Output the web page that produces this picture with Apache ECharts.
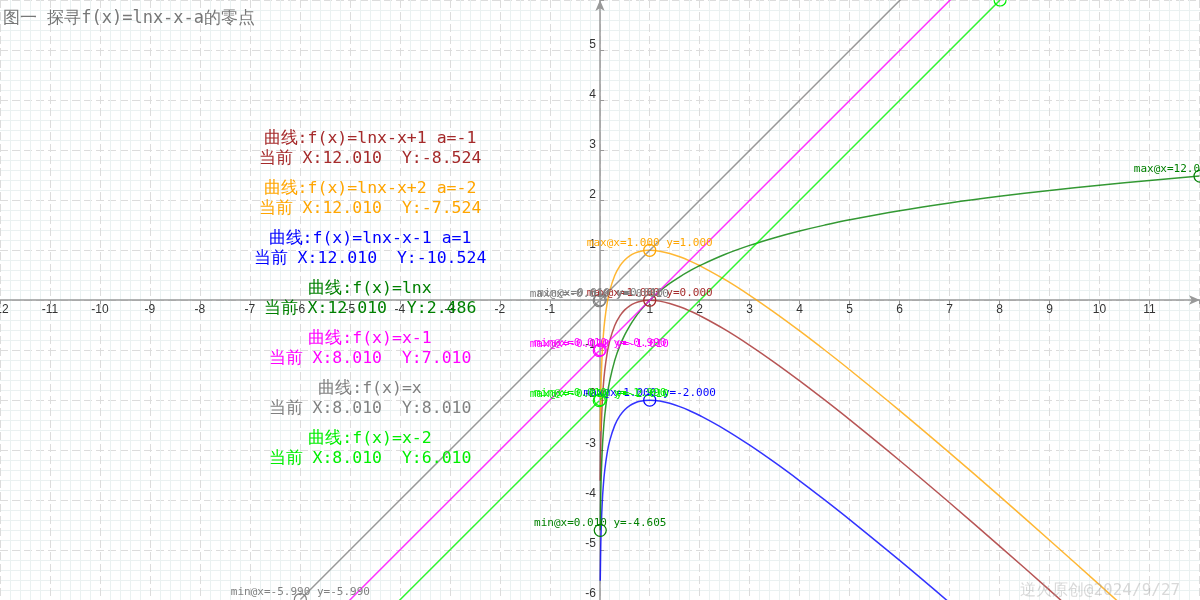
<!DOCTYPE html>
<html><head><meta charset="utf-8">
<script src="https://cdn.jsdelivr.net/npm/echarts@6/dist/echarts.min.js"></script>
<style>html,body{margin:0;padding:0;background:#fff}#c{width:1200px;height:600px}</style>
</head><body><div id="c"></div>
<script>
// ---- data ----
const titleText = '图一 探寻f(x)=lnx-x-a的零点';
const watermarkText = '逆火原创@2024/9/27';
const xRange = [-12, 12.01];
const yRange = [-6, 6.01];
const hiddenXLabels = [0, 12];
const hiddenYLabels = [0, 6];

const logX = [0.01,0.02,0.03,0.05,0.07,0.1,0.15,0.2,0.3,0.4,0.5,0.6,0.7,0.8,0.9,1,1.2,1.4,1.6,1.8,2,2.5,3,3.5,4,4.5,5,6,7,8,9,10,11,12,12.01];
const brownY = [-3.6152,-2.9320,-2.5366,-2.0457,-1.7293,-1.4026,-1.0471,-0.8094,-0.5040,-0.3163,-0.1931,-0.1108,-0.0567,-0.0231,-0.0054,0,-0.0177,-0.0635,-0.1300,-0.2122,-0.3069,-0.5837,-0.9014,-1.2472,-1.6137,-1.9959,-2.3906,-3.2082,-4.0541,-4.9206,-5.8028,-6.6974,-7.6021,-8.5151,-8.5243];
const orangeY = [-2.6152,-1.9320,-1.5366,-1.0457,-0.7293,-0.4026,-0.0471,0.1906,0.4960,0.6837,0.8069,0.8892,0.9433,0.9769,0.9946,1,0.9823,0.9365,0.8700,0.7878,0.6931,0.4163,0.0986,-0.2472,-0.6137,-0.9959,-1.3906,-2.2082,-3.0541,-3.9206,-4.8028,-5.6974,-6.6021,-7.5151,-7.5243];
const blueY = [-5.6152,-4.9320,-4.5366,-4.0457,-3.7293,-3.4026,-3.0471,-2.8094,-2.5040,-2.3163,-2.1931,-2.1108,-2.0567,-2.0231,-2.0054,-2,-2.0177,-2.0635,-2.1300,-2.2122,-2.3069,-2.5837,-2.9014,-3.2472,-3.6137,-3.9959,-4.3906,-5.2082,-6.0541,-6.9206,-7.8028,-8.6974,-9.6021,-10.5151,-10.5243];
const lnY = [-4.6052,-3.9120,-3.5066,-2.9957,-2.6593,-2.3026,-1.8971,-1.6094,-1.2040,-0.9163,-0.6931,-0.5108,-0.3567,-0.2231,-0.1054,0,0.1823,0.3365,0.4700,0.5878,0.6931,0.9163,1.0986,1.2528,1.3863,1.5041,1.6094,1.7918,1.9459,2.0794,2.1972,2.3026,2.3979,2.4849,2.4857];

const lineXNeg = [-5.99,-0.01];
const lineXPos = [0.01,8.01];
const magentaYNeg = [-6.99,-1.01];
const magentaYPos = [-0.99,7.01];
const grayYNeg = [-5.99,-0.01];
const grayYPos = [0.01,8.01];
const limeYNeg = [-7.99,-2.01];
const limeYPos = [-1.99,6.01];

const curveNames = ['曲线:f(x)=lnx-x+1 a=-1','曲线:f(x)=lnx-x+2 a=-2','曲线:f(x)=lnx-x-1 a=1','曲线:f(x)=lnx','曲线:f(x)=x-1','曲线:f(x)=x','曲线:f(x)=x-2'];
const curveColors = ['#a52a2a','#ffa500','#0000ff','#008000','#ff00ff','#808080','#00ee00'];

// ---- build ----
function pairs(xs, ys){ return xs.map((x,i)=>[x, ys[i]]); }
const curves = [
  {segs:[pairs(logX,brownY)]},
  {segs:[pairs(logX,orangeY)]},
  {segs:[pairs(logX,blueY)]},
  {segs:[pairs(logX,lnY)]},
  {segs:[pairs(lineXNeg,magentaYNeg), pairs(lineXPos,magentaYPos)]},
  {segs:[pairs(lineXNeg,grayYNeg), pairs(lineXPos,grayYPos)]},
  {segs:[pairs(lineXNeg,limeYNeg), pairs(lineXPos,limeYPos)]}
];
const f3 = v => v.toFixed(3);
const series = [];
const graphics = [];
curves.forEach((c, ci) => {
  const color = curveColors[ci];
  c.segs.forEach(seg => {
    let mx = seg[0], mn = seg[0];
    seg.forEach(p => { if (p[1] > mx[1]) mx = p; if (p[1] < mn[1]) mn = p; });
    series.push({
      type:'line', data: seg, showSymbol:false, smooth:0.4,
      lineStyle:{color:color, width:1.5, opacity:0.8}, itemStyle:{color:color}, silent:true,
      clip:true,
      markPoint:{
        symbol:'circle', symbolSize:12, silent:true,
        itemStyle:{color:'rgba(0,0,0,0)', borderColor:color, borderWidth:1.2},
        label:{show:true, position:'inside', offset:[0,-7], color:color, fontSize:11, fontFamily:'monospace'},
        data:[
          {coord:mx, value:'max', label:{formatter:'max@x='+f3(mx[0])+' y='+f3(mx[1])}},
          {coord:mn, value:'min', label:{formatter:'min@x='+f3(mn[0])+' y='+f3(mn[1])}}
        ]
      }
    });
  });
  const lastSeg = c.segs[c.segs.length-1];
  const last = lastSeg[lastSeg.length-1];
  graphics.push({type:'text', x:370, y:139+50*ci, z:100,
    style:{text:curveNames[ci], fill:color, font:'16.5px monospace', textAlign:'center', textVerticalAlign:'middle'}});
  graphics.push({type:'text', x:370, y:159+50*ci, z:100,
    style:{text:'当前 X:'+f3(last[0])+'  Y:'+f3(last[1]), fill:color, font:'16.5px monospace', textAlign:'center', textVerticalAlign:'middle'}});
});
graphics.push({type:'text', x:1100, y:591, z:100,
  style:{text:watermarkText, fill:'rgba(160,160,160,0.4)', font:'16px monospace', textAlign:'center', textVerticalAlign:'middle'}});

const chart = echarts.init(document.getElementById('c'), null, {renderer:'canvas'});
chart.setOption({
  animation:false,
  backgroundColor:'#fff',
  title:{text:titleText, left:3, top:10, padding:0, textStyle:{color:'#777', fontSize:17, fontWeight:'normal', fontFamily:'monospace'}},
  grid:{left:0, right:0, top:0, bottom:0, outerBoundsMode:'none', containLabel:false},
  xAxis:{type:'value', min:xRange[0], max:xRange[1], interval:1, position:'bottom', offset:-300,
    axisLine:{onZero:false, symbol:['none','arrow'], symbolSize:[7,11], lineStyle:{color:'#999', width:1.5}},
    axisTick:{show:true, length:4, lineStyle:{color:'#999'}},
    axisLabel:{margin:4, color:'#333', fontSize:12, showMaxLabel:false, formatter:v => hiddenXLabels.indexOf(v)>=0 || v%1!==0 ?'':String(v)},
    splitLine:{show:true, lineStyle:{color:'#dcdcdc', type:[8,4], width:1}},
    minorTick:{show:true, splitNumber:5, length:0},
    minorSplitLine:{show:true, lineStyle:{color:'#eaf1f1', width:1}}
  },
  yAxis:{type:'value', min:yRange[0], max:yRange[1], interval:1, position:'left', offset:-600,
    axisLine:{onZero:false, symbol:['none','arrow'], symbolSize:[7,11], lineStyle:{color:'#999', width:1.5}},
    axisTick:{show:true, inside:true, length:4, lineStyle:{color:'#999'}},
    axisLabel:{margin:4, color:'#333', fontSize:12, verticalAlign:'bottom', showMaxLabel:false, formatter:v => hiddenYLabels.indexOf(v)>=0 || v%1!==0 ?'':String(v)},
    splitLine:{show:true, lineStyle:{color:'#dcdcdc', type:[8,4], width:1}},
    minorTick:{show:true, splitNumber:5, length:0},
    minorSplitLine:{show:true, lineStyle:{color:'#eaf1f1', width:1}}
  },
  series: series,
  graphic: graphics
});
</script>
</body></html>
